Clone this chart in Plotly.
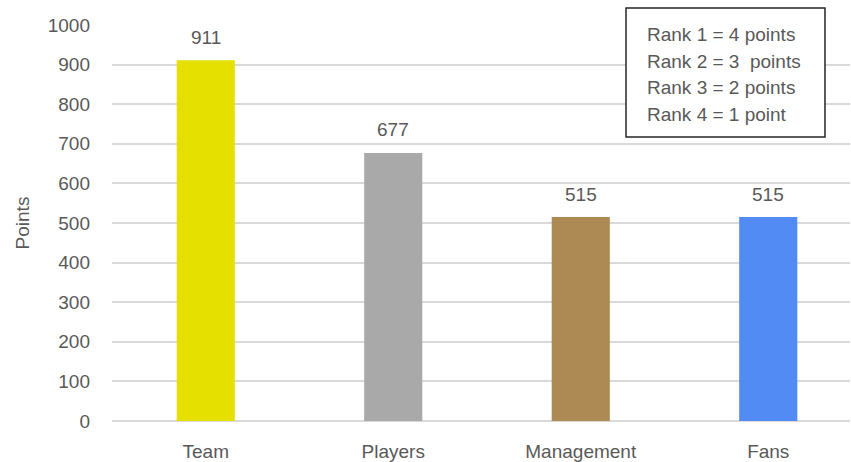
import plotly.graph_objects as go

# Points per stakeholder group
categories = ["Team", "Players", "Management", "Fans"]
points = [911, 677, 515, 515]
bar_colors = ["#E6E000", "#A9A9A9", "#AD8A53", "#538BF5"]

y_ticks = list(range(0, 1001, 100))
legend_lines = ["Rank 1 = 4 points", "Rank 2 = 3  points", "Rank 3 = 2 points", "Rank 4 = 1 point"]

FONT = "Liberation Sans"
GREY = "#595959"

fig = go.Figure(
    go.Bar(
        x=categories,
        y=points,
        marker=dict(color=bar_colors, line=dict(width=0)),
        hoverinfo="skip",
    )
)

# Value labels above each bar
for cat, val in zip(categories, points):
    fig.add_annotation(
        x=cat, y=val, text=str(val), showarrow=False,
        yanchor="middle", yshift=23,
        font=dict(family=FONT, size=19, color=GREY),
    )

# Scoring key: framed box with one text line per rank
fig.add_shape(
    type="rect", xref="paper", yref="paper",
    x0=0.6965, x1=0.9661, y0=0.7172, y1=1.043,
    line=dict(color="#262626", width=1.5), fillcolor="white", layer="above",
)
key_y = [0.977, 0.909, 0.841, 0.773]
for line, yy in zip(legend_lines, key_y):
    fig.add_annotation(
        xref="paper", yref="paper", x=0.722, y=yy,
        xanchor="left", yanchor="middle", text=line, showarrow=False,
        font=dict(family=FONT, size=19, color=GREY),
    )

fig.update_layout(
    width=851, height=462,
    margin=dict(l=112, r=1, t=25, b=41),
    paper_bgcolor="white", plot_bgcolor="white",
    bargap=0.69,
    showlegend=False,
    font=dict(family=FONT, size=19, color=GREY),
    xaxis=dict(
        type="category", range=[-0.5, 3.436],
        showgrid=False, showline=False, ticks="",
        tickfont=dict(family=FONT, size=19, color=GREY),
        ticklabelstandoff=17,
    ),
    yaxis=dict(
        range=[0, 1000], tickvals=y_ticks,
        showgrid=True, gridcolor="#D9D9D9", gridwidth=1.5,
        zeroline=True, zerolinecolor="#D9D9D9", zerolinewidth=1.5,
        showline=False, ticks="",
        tickfont=dict(family=FONT, size=19, color=GREY),
        ticklabelstandoff=21,
        title=dict(text="Points", font=dict(family=FONT, size=19, color=GREY), standoff=13),
    ),
)

fig.write_html("out.html")
